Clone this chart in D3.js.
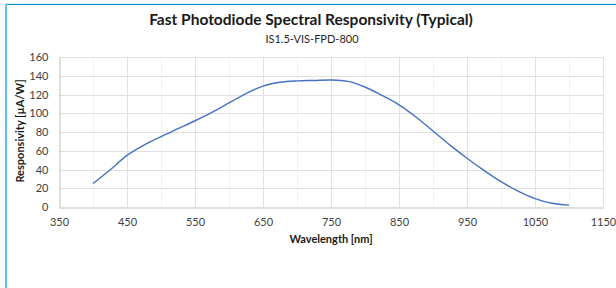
<!DOCTYPE html>
<html>
<head>
<meta charset="utf-8">
<script src="https://cdn.jsdelivr.net/npm/d3@7"></script>
<style>
  html, body { margin: 0; padding: 0; background: #fff; }
  svg { display: block; font-family: Lato, "Open Sans", sans-serif; }
</style>
</head>
<body>
<div id="chart"></div>
<script>
// wavelength [nm] and responsivity [µA/W]
const wavelengths = [400, 425, 450, 475, 500, 525, 550, 575, 600, 625, 650, 675, 700, 725, 750,
                     775, 800, 825, 850, 875, 900, 925, 950, 975, 1000, 1025, 1050, 1075, 1100];
const responsivity = [25, 39.5, 55, 66, 75, 83.5, 92, 101, 111, 121, 129, 133, 134.5, 135, 135.5,
                      134, 128, 119, 109, 96, 81, 66, 52, 39, 27, 17, 9, 4, 2];
const xTicks = [350, 450, 550, 650, 750, 850, 950, 1050, 1150];
const xMinor = [400, 500, 600, 700, 800, 900, 1000, 1100];
const yTicks = [0, 20, 40, 60, 80, 100, 120, 140, 160];

const W = 616, H = 288;
const plot = { left: 59, right: 603, top: 57, bottom: 207 };

const svg = d3.select("#chart").append("svg")
  .attr("width", W).attr("height", H);

// frame lines
svg.append("line").attr("x1", 5).attr("x2", W).attr("y1", 3.5).attr("y2", 3.5)
  .attr("stroke", "#d6eaf2").attr("stroke-width", 1);
svg.append("line").attr("x1", 5).attr("x2", W).attr("y1", 4.5).attr("y2", 4.5)
  .attr("stroke", "#0096c8").attr("stroke-width", 1.2);
svg.append("line").attr("x1", 6).attr("x2", 6).attr("y1", 4).attr("y2", H)
  .attr("stroke", "#5ec3e8").attr("stroke-width", 2);

const x = d3.scaleLinear().domain([350, 1150]).range([plot.left, plot.right]);
const y = d3.scaleLinear().domain([0, 160]).range([plot.bottom, plot.top]);

// gridlines
svg.append("g").selectAll("line").data(xMinor).join("line")
  .attr("x1", d => Math.round(x(d)) + 0.5).attr("x2", d => Math.round(x(d)) + 0.5)
  .attr("y1", plot.top).attr("y2", plot.bottom)
  .attr("stroke", "#f2f2f2");
svg.append("g").selectAll("line").data(xTicks.slice(1)).join("line")
  .attr("x1", d => Math.round(x(d)) + 0.5).attr("x2", d => Math.round(x(d)) + 0.5)
  .attr("y1", plot.top).attr("y2", plot.bottom)
  .attr("stroke", "#e0e0e0");
svg.append("g").selectAll("line").data(yTicks.slice(1)).join("line")
  .attr("x1", plot.left).attr("x2", plot.right)
  .attr("y1", d => Math.round(y(d)) + 0.5).attr("y2", d => Math.round(y(d)) + 0.5)
  .attr("stroke", "#e0e0e0");

// axes
const xAxis = svg.append("g")
  .attr("transform", `translate(0,${plot.bottom + 0.5})`)
  .call(d3.axisBottom(x).tickValues(xTicks).tickFormat(d3.format("d")).tickSize(0).tickPadding(11));
xAxis.select(".domain").attr("stroke", "#bfbfbf");
xAxis.selectAll("text").attr("font-size", 11).attr("fill", "#404040")
  .attr("font-family", "Lato, sans-serif");

const yAxis = svg.append("g")
  .attr("transform", `translate(${plot.left + 0.5},0)`)
  .call(d3.axisLeft(y).tickValues(yTicks).tickSize(0).tickPadding(11));
yAxis.select(".domain").attr("stroke", "#bfbfbf");
yAxis.selectAll("text").attr("font-size", 11).attr("fill", "#404040")
  .attr("font-family", "Lato, sans-serif");

// curve
const pts = wavelengths.map((w, i) => [w, responsivity[i]]);
svg.append("path")
  .datum(pts)
  .attr("fill", "none")
  .attr("stroke", "#4472c4")
  .attr("stroke-width", 1.4)
  .attr("d", d3.line().x(d => x(d[0])).y(d => y(d[1])).curve(d3.curveCatmullRom.alpha(0.5)));

// titles
svg.append("text").attr("x", 311).attr("y", 25).attr("text-anchor", "middle")
  .attr("font-size", 15.5).attr("font-weight", "bold").attr("fill", "#1a1a1a")
  .text("Fast Photodiode Spectral Responsivity (Typical)");
svg.append("text").attr("x", 312).attr("y", 43).attr("text-anchor", "middle")
  .attr("font-size", 11).attr("fill", "#262626")
  .text("IS1.5-VIS-FPD-800");
svg.append("text").attr("x", 331).attr("y", 243).attr("text-anchor", "middle")
  .attr("font-size", 11).attr("font-weight", "bold").attr("fill", "#1a1a1a")
  .text("Wavelength [nm]");
svg.append("text").attr("transform", "translate(24,131) rotate(-90)")
  .attr("text-anchor", "middle")
  .attr("font-size", 11).attr("font-weight", "bold").attr("fill", "#1a1a1a")
  .text("Responsivity [µA/W]");
</script>
</body>
</html>
